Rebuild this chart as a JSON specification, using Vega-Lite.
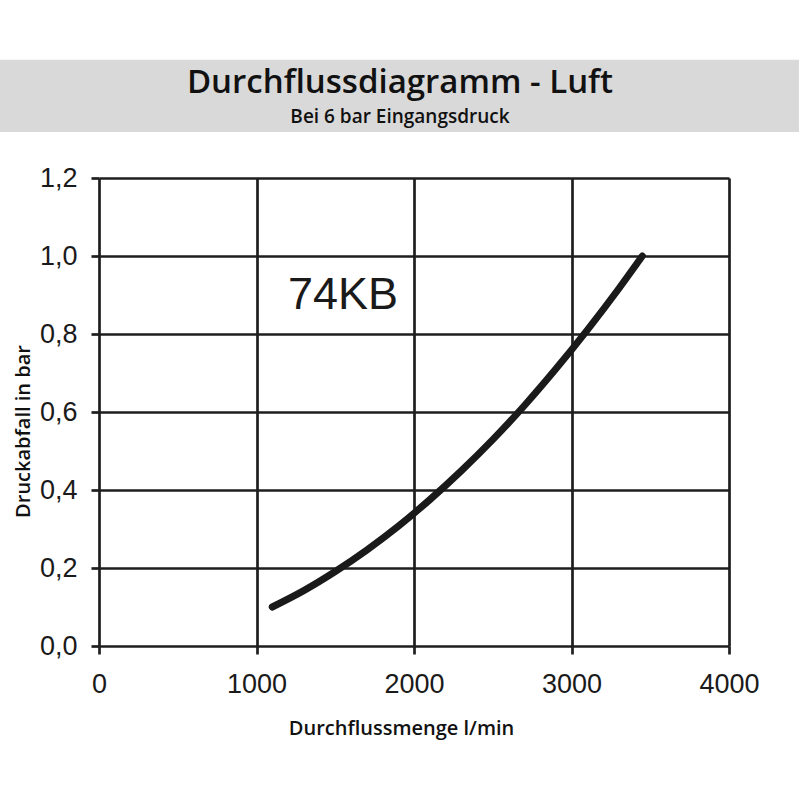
{
  "$schema": "https://vega.github.io/schema/vega-lite/v6.json",
  "width": 630,
  "height": 468,
  "autosize": {"type": "none"},
  "padding": {"left": 99, "top": 178, "right": 71, "bottom": 154},
  "background": "white",
  "config": {
    "view": {"stroke": null},
    "font": "Liberation Sans"
  },
  "title": {
    "text": "Durchflussdiagramm - Luft",
    "subtitle": "Bei 6 bar Eingangsdruck",
    "font": "Open Sans",
    "fontSize": 33,
    "fontWeight": 600,
    "color": "#111111",
    "subtitleFont": "Open Sans",
    "subtitleFontSize": 19,
    "subtitleFontWeight": 600,
    "subtitleColor": "#111111",
    "subtitlePadding": 8,
    "anchor": "middle",
    "dx": -14,
    "offset": -67,
    "zindex": 1
  },
  "layer": [
    {
      "data": {"values": [{}]},
      "mark": {"type": "rect", "color": "#d9d9d9", "clip": false},
      "encoding": {
        "x": {"datum": -629, "type": "quantitative"},
        "x2": {"datum": 4444},
        "y": {"datum": 1.503, "type": "quantitative"},
        "y2": {"datum": 1.318}
      }
    },
    {
      "data": {
        "values": [
          {"flow": 1100, "drop": 0.1},
          {"flow": 1300, "drop": 0.142},
          {"flow": 1500, "drop": 0.191},
          {"flow": 1700, "drop": 0.246},
          {"flow": 1900, "drop": 0.307},
          {"flow": 2100, "drop": 0.375},
          {"flow": 2300, "drop": 0.449},
          {"flow": 2500, "drop": 0.529},
          {"flow": 2700, "drop": 0.616},
          {"flow": 2900, "drop": 0.71},
          {"flow": 3100, "drop": 0.81},
          {"flow": 3300, "drop": 0.916},
          {"flow": 3450, "drop": 1.0}
        ]
      },
      "mark": {
        "type": "line",
        "color": "#1a1a1a",
        "strokeWidth": 7,
        "strokeCap": "round",
        "interpolate": "monotone"
      },
      "encoding": {
        "x": {
          "field": "flow",
          "type": "quantitative",
          "scale": {"domain": [0, 4000], "nice": false},
          "axis": {
            "values": [0, 1000, 2000, 3000, 4000],
            "format": "d",
            "title": "Durchflussmenge l/min",
            "titleFont": "Open Sans",
            "titleFontWeight": 600,
            "titleFontSize": 20,
            "titleColor": "#111111",
            "titleX": 302,
            "titleY": 88,
            "titleBaseline": "alphabetic",
            "domain": false,
            "grid": true,
            "gridColor": "#1e1e1e",
            "gridWidth": 2.7,
            "gridOpacity": 1,
            "ticks": true,
            "tickColor": "#1e1e1e",
            "tickWidth": 2.7,
            "tickSize": 8,
            "labelFont": "Liberation Sans",
            "labelFontSize": 27,
            "labelColor": "#1a1a1a",
            "labelPadding": 17,
            "labelFlush": false
          }
        },
        "y": {
          "field": "drop",
          "type": "quantitative",
          "scale": {"domain": [0, 1.2], "nice": false},
          "axis": {
            "values": [0, 0.2, 0.4, 0.6, 0.8, 1.0, 1.2],
            "labelExpr": "replace(format(datum.value, '.1f'), '.', ',')",
            "title": "Druckabfall in bar",
            "titleFont": "Open Sans",
            "titleFontWeight": 600,
            "titleFontSize": 20,
            "titleColor": "#111111",
            "titleX": -70,
            "titleY": 253,
            "titleBaseline": "alphabetic",
            "domain": false,
            "grid": true,
            "gridColor": "#1e1e1e",
            "gridWidth": 2.7,
            "gridOpacity": 1,
            "ticks": true,
            "tickColor": "#1e1e1e",
            "tickWidth": 2.7,
            "tickSize": 8,
            "labelFont": "Liberation Sans",
            "labelFontSize": 27,
            "labelColor": "#1a1a1a",
            "labelPadding": 14,
            "labelFlush": false
          }
        }
      }
    },
    {
      "data": {"values": [{"name": "74KB", "flow": 1200, "drop": 0.863}]},
      "mark": {
        "type": "text",
        "align": "left",
        "baseline": "alphabetic",
        "font": "Liberation Sans",
        "fontSize": 45,
        "color": "#1a1a1a"
      },
      "encoding": {
        "x": {"field": "flow", "type": "quantitative"},
        "y": {"field": "drop", "type": "quantitative"},
        "text": {"field": "name"}
      }
    }
  ]
}
